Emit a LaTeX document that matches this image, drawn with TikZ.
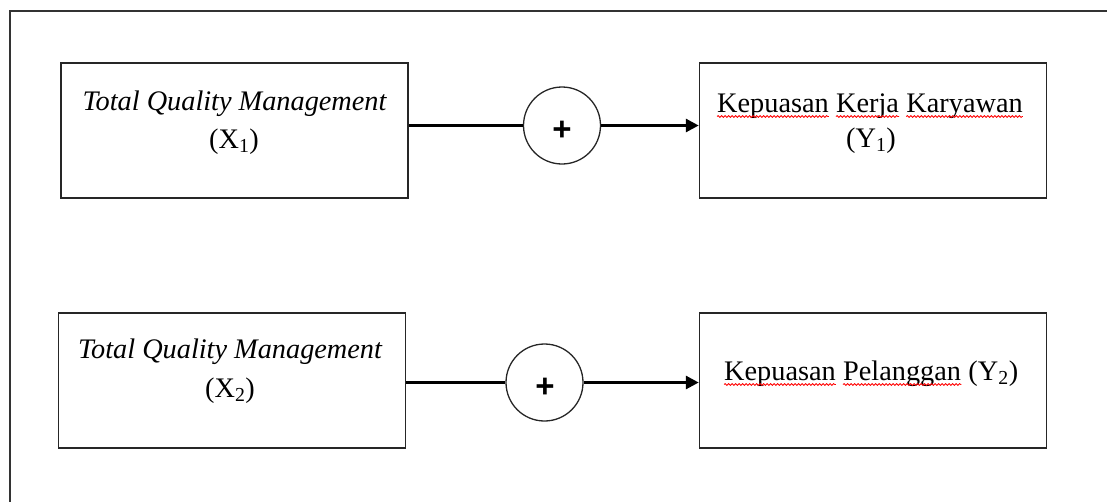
\documentclass[tikz,border=0pt]{standalone}
\usepackage{fontspec}
\setmainfont{Liberation Serif}
\newfontfamily\plusfont{Liberation Sans}
\usetikzlibrary{arrows.meta,decorations.pathmorphing}
\begin{document}
\begin{tikzpicture}[x=1pt,y=-1pt,
  box/.style={draw=black!85, line width=1.5pt, minimum width=347pt, minimum height=135pt, inner sep=0pt},
  txt/.style={font=\fontsize{28.3}{37}\selectfont, inner sep=0pt, anchor=base},
  word/.style={txt, anchor=base west},
  ring/.style={circle, draw=black!85, line width=1.3pt, minimum size=77pt, inner sep=0pt},
  plus/.style={font=\plusfont\bfseries\fontsize{33}{33}\selectfont, inner sep=0pt},
  link/.style={line width=3pt},
  arr/.style={link, -{Triangle[length=13pt,width=13pt]}},
  wave/.style={red, line width=0.8pt, decorate, decoration={snake, segment length=3.5pt, amplitude=0.9pt}}]
\useasboundingbox (0,0) rectangle (1107,501);
\clip (0,0) rectangle (1107,501);
\draw[line width=1.3pt, black!80] (10,520) -- (10,11) -- (1120,11);
% boxes
\node[box] (x1) at (234.5,130.5) {};
\node[box] (y1) at (873,130.5) {};
\node[box] (x2) at (232,380.5) {};
\node[box] (y2) at (873,380.5) {};
% circles
\node[ring] (c1) at (562,125.5) {};
\node[ring] (c2) at (544.5,382.5) {};
\node[plus] (p1) at (562,131) {+};
\node[plus] (p2) at (545,388) {+};
% texts
\node[txt] (x1a) at (234.5,110) {\itshape Total Quality Management};
\node[txt] (x1b) at (234,148) {(X\textsubscript{1})};
\node[word] (y1w1) at (717,112) {Kepuasan};
\node[word] (y1w2) at ([xshift=7pt]y1w1.base east) {Kerja};
\node[word] (y1w3) at ([xshift=7pt]y1w2.base east) {Karyawan};
\node[txt] (y1b) at (871,147) {(Y\textsubscript{1})};
\node[txt] (x2a) at (230,358) {\itshape Total Quality Management};
\node[txt] (x2b) at (230,397) {(X\textsubscript{2})};
\node[word] (y2w1) at (724,380) {Kepuasan};
\node[word] (y2w2) at ([xshift=7pt]y2w1.base east) {Pelanggan};
\node[word] (y2w3) at ([xshift=7pt]y2w2.base east) {(Y\textsubscript{2})};
% spell-check waves
\foreach \w in {y1w1,y1w2,y1w3,y2w1,y2w2}
  \draw[wave] ([yshift=-4.5pt]\w.base west) -- ([yshift=-4.5pt]\w.base east);
% connectors
\draw[link] (c1.west -| x1.east) -- (c1.west);
\draw[arr] (c1.east) -- (c1.east -| y1.west);
\draw[link] (c2.west -| x2.east) -- (c2.west);
\draw[arr] (c2.east) -- (c2.east -| y2.west);
\end{tikzpicture}
\end{document}
